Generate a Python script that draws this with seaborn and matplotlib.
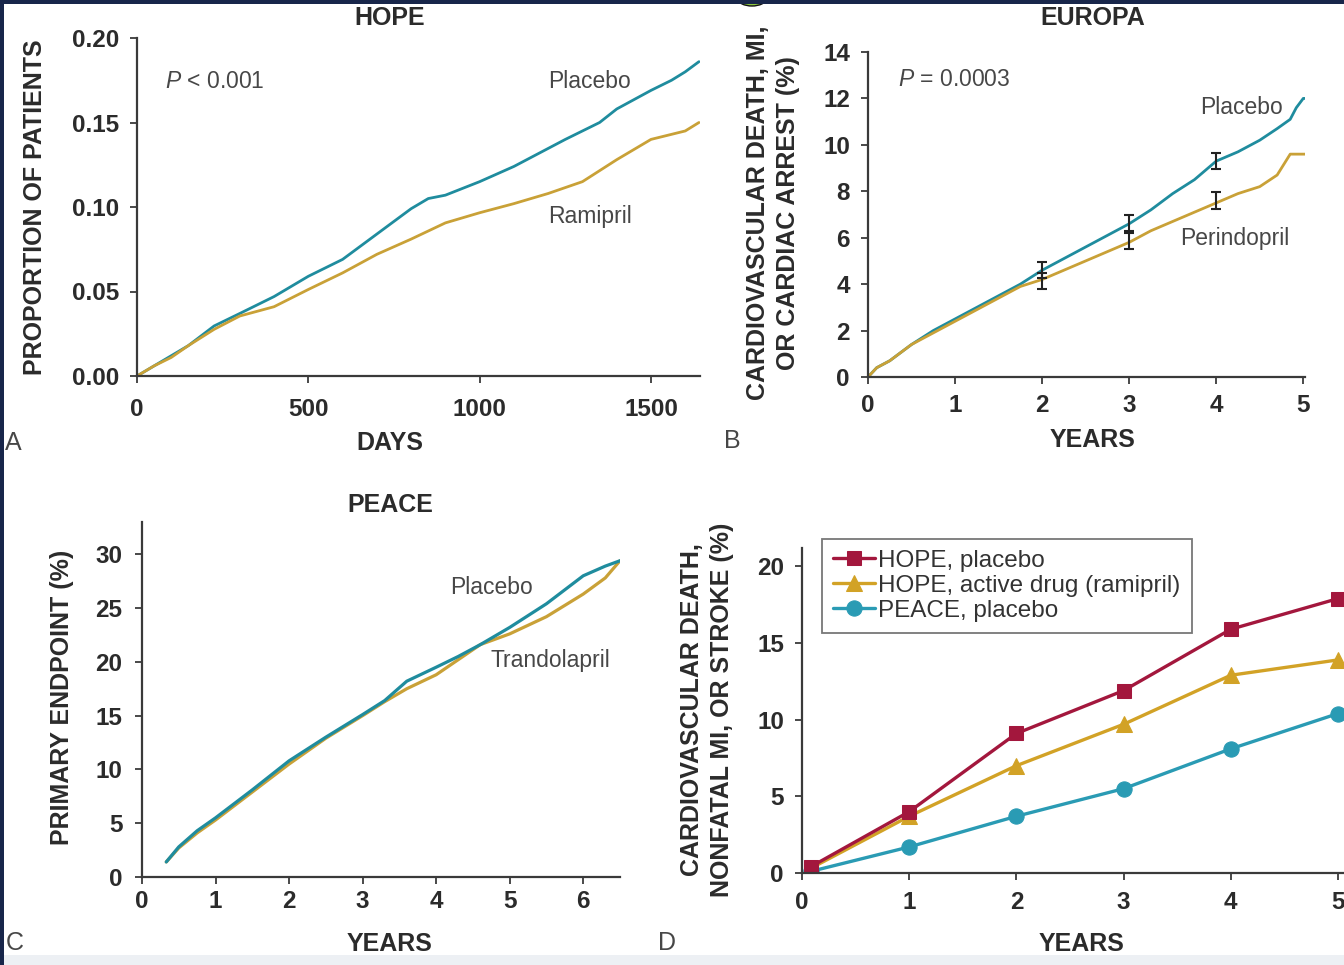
import matplotlib
matplotlib.use("Agg")
import matplotlib.pyplot as plt
import seaborn as sns
from matplotlib.patches import Rectangle, Ellipse

# ---------------- data ----------------
# Panel A: HOPE (days, proportion of patients)
hope_days_placebo = [0, 50, 100, 150, 225, 300, 400, 500, 600, 718, 800, 850, 900, 1000, 1100, 1250, 1350, 1400, 1500, 1560, 1600, 1640]
hope_placebo = [0, 0.006, 0.012, 0.018, 0.0296, 0.037, 0.047, 0.059, 0.069, 0.0867, 0.099, 0.105, 0.107, 0.115, 0.124, 0.140, 0.150, 0.158, 0.169, 0.175, 0.180, 0.186]
hope_days_ramipril = [0, 50, 100, 150, 225, 300, 400, 500, 600, 700, 800, 900, 1000, 1100, 1200, 1300, 1400, 1500, 1600, 1640]
hope_ramipril = [0, 0.006, 0.011, 0.018, 0.0276, 0.0355, 0.041, 0.0512, 0.061, 0.072, 0.081, 0.0906, 0.0966, 0.102, 0.108, 0.115, 0.128, 0.140, 0.145, 0.150]

# Panel B: EUROPA (years, %)
europa_years = [0, 0.1, 0.25, 0.5, 0.75, 1.0, 1.25, 1.5, 1.75, 2.0, 2.25, 2.5, 2.75, 3.0, 3.25, 3.5, 3.75, 4.0, 4.25, 4.5, 4.7, 4.85, 4.92, 5.0, 5.02]
europa_placebo = [0, 0.4, 0.7, 1.4, 2.0, 2.5, 3.0, 3.5, 4.0, 4.6, 5.1, 5.6, 6.1, 6.6, 7.2, 7.9, 8.5, 9.3, 9.7, 10.2, 10.7, 11.1, 11.6, 12.0, 12.0]
europa_perindopril = [0, 0.4, 0.7, 1.4, 1.9, 2.4, 2.9, 3.4, 3.9, 4.2, 4.6, 5.0, 5.4, 5.8, 6.3, 6.7, 7.1, 7.5, 7.9, 8.2, 8.7, 9.6, 9.6, 9.6, 9.6]
europa_err_years = [2, 3, 4]
europa_err_placebo = [4.6, 6.65, 9.3]
europa_err_perindopril = [4.15, 5.85, 7.6]
europa_err_half = [0.35, 0.35, 0.35]

# Panel C: PEACE (years, %)
peace_years = [0.33, 0.5, 0.75, 1.0, 1.5, 2.0, 2.5, 3.0, 3.3, 3.6, 4.0, 4.3, 4.6, 5.0, 5.5, 6.0, 6.3, 6.5]
peace_placebo = [1.4, 2.8, 4.3, 5.5, 8.1, 10.8, 13.0, 15.1, 16.4, 18.2, 19.5, 20.5, 21.6, 23.2, 25.4, 28.0, 28.9, 29.4]
peace_trandolapril = [1.4, 2.7, 4.1, 5.3, 7.9, 10.5, 12.9, 15.0, 16.3, 17.5, 18.8, 20.2, 21.6, 22.6, 24.2, 26.3, 27.8, 29.4]

# Panel D: comparison (years, %)
comp_years = [0.08, 1, 2, 3, 4, 5]
comp_hope_placebo = [0.4, 4.0, 9.1, 11.9, 15.9, 17.9]
comp_hope_ramipril = [0.3, 3.7, 7.0, 9.7, 12.9, 13.9]
comp_peace_placebo = [0.1, 1.7, 3.7, 5.5, 8.1, 10.4]
comp_labels = ["HOPE, placebo", "HOPE, active drug (ramipril)", "PEACE, placebo"]

# tick labels
hope_xticks = [0, 500, 1000, 1500]
hope_yticks = [0, 0.05, 0.10, 0.15, 0.20]
hope_yticklabels = ["0.00", "0.05", "0.10", "0.15", "0.20"]
europa_xticks = [0, 1, 2, 3, 4, 5]
europa_yticks = [0, 2, 4, 6, 8, 10, 12, 14]
peace_xticks = [0, 1, 2, 3, 4, 5, 6]
peace_yticks = [0, 5, 10, 15, 20, 25, 30]
comp_xticks = [0, 1, 2, 3, 4, 5]
comp_yticks = [0, 5, 10, 15, 20]

# ---------------- style ----------------
sns.set_theme(style="white")
plt.rcParams['font.family'] = ['Liberation Sans', 'DejaVu Sans']
plt.rcParams['mathtext.fontset'] = 'custom'
plt.rcParams['mathtext.it'] = 'Liberation Sans:italic'
plt.rcParams['mathtext.rm'] = 'Liberation Sans'

TEAL = '#1f8c9e'
GOLD = '#c9a137'
RED = '#a3173d'
GOLD_D = '#d2a226'
TEAL_D = '#2a9bb4'
SPINE = '#3a3a3a'
TXT = '#2b2b2b'
ANN = '#474747'
ANN_SIZE = 16.5
TICK_SIZE = 17.5

W, H = 1344, 965
fig = plt.figure(figsize=(W / 100, H / 100), dpi=100)
fig.patch.set_facecolor('white')


def ax_at(x0, y0, x1, y1):
    return fig.add_axes([x0 / W, (H - y1) / H, (x1 - x0) / W, (y1 - y0) / H])


def style(ax, xpad, ypad):
    sns.despine(ax=ax)
    ax.set_facecolor('none')
    for s in ['left', 'bottom']:
        ax.spines[s].set_color(SPINE)
        ax.spines[s].set_linewidth(1.6)
    ax.tick_params(axis='both', direction='out', length=5, width=1.3, color=SPINE,
                   labelsize=TICK_SIZE, labelcolor=TXT, bottom=True, left=True)
    ax.tick_params(axis='x', pad=xpad)
    ax.tick_params(axis='y', pad=ypad)
    for lab in ax.get_xticklabels() + ax.get_yticklabels():
        lab.set_fontweight('bold')
    ax.set_xlabel('')
    ax.set_ylabel('')


def ftext(x, y, s, size=18, weight='bold', color=TXT, rot=0, ha='center', va='center', **kw):
    fig.text(x / W, (H - y) / H, s, fontsize=size, fontweight=weight, color=color,
             rotation=rot, ha=ha, va=va, **kw)


# ---------------- Panel A ----------------
axA = ax_at(137, 38, 700, 376)
sns.lineplot(x=hope_days_placebo, y=hope_placebo, ax=axA, color=TEAL, linewidth=2.0)
sns.lineplot(x=hope_days_ramipril, y=hope_ramipril, ax=axA, color=GOLD, linewidth=2.0)
axA.set_xlim(0, 1643)
axA.set_ylim(0, 0.20)
axA.set_xticks(hope_xticks)
axA.set_yticks(hope_yticks)
axA.set_yticklabels(hope_yticklabels)
style(axA, 11, 8)
ftext(390, 18, 'HOPE')
ftext(390, 443, 'DAYS')
ftext(35, 207, 'PROPORTION OF PATIENTS', rot=90)
ftext(5, 443, 'A', weight='normal', color=ANN, ha='left')
ftext(165, 81, r'$\it{P}$ < 0.001', size=ANN_SIZE, weight='normal', color=ANN, ha='left')
ftext(590, 81, 'Placebo', size=ANN_SIZE, weight='normal', color=ANN)
ftext(590, 216, 'Ramipril', size=ANN_SIZE, weight='normal', color=ANN)

# ---------------- Panel B ----------------
axB = ax_at(868, 52, 1305, 377)
sns.lineplot(x=europa_years, y=europa_placebo, ax=axB, color=TEAL, linewidth=2.0)
sns.lineplot(x=europa_years, y=europa_perindopril, ax=axB, color=GOLD, linewidth=2.0)
axB.errorbar(europa_err_years, europa_err_placebo, yerr=europa_err_half, fmt='none',
             ecolor='#222222', elinewidth=1.5, capsize=3.5, capthick=1.5, zorder=4)
axB.errorbar(europa_err_years, europa_err_perindopril, yerr=europa_err_half, fmt='none',
             ecolor='#222222', elinewidth=1.5, capsize=3.5, capthick=1.5, zorder=4)
axB.set_xlim(0, 5.02)
axB.set_ylim(0, 14)
axB.set_xticks(europa_xticks)
axB.set_yticks(europa_yticks)
style(axB, 7, 8)
ftext(1093, 18, 'EUROPA')
ftext(1093, 440, 'YEARS')
ftext(773, 213, 'CARDIOVASCULAR DEATH, MI,\nOR CARDIAC ARREST (%)', rot=90,
      multialignment='center', linespacing=1.3)
ftext(732, 441, 'B', weight='normal', color=ANN)
ftext(898, 80, r'$\it{P}$ = 0.0003', size=ANN_SIZE, weight='normal', color=ANN, ha='left')
ftext(1242, 108, 'Placebo', size=ANN_SIZE, weight='normal', color=ANN)
ftext(1235, 238, 'Perindopril', size=ANN_SIZE, weight='normal', color=ANN)

# ---------------- Panel C ----------------
axC = ax_at(142, 522, 620, 877)
sns.lineplot(x=peace_years, y=peace_trandolapril, ax=axC, color=GOLD, linewidth=2.3)
sns.lineplot(x=peace_years, y=peace_placebo, ax=axC, color=TEAL, linewidth=2.3)
axC.set_xlim(0, 6.5)
axC.set_ylim(0, 33)
axC.set_xticks(peace_xticks)
axC.set_yticks(peace_yticks)
style(axC, 4, 9)
ftext(390, 505, 'PEACE')
ftext(390, 944, 'YEARS')
ftext(62, 697, 'PRIMARY ENDPOINT (%)', rot=90)
ftext(15, 943, 'C', weight='normal', color=ANN)
ftext(492, 588, 'Placebo', size=ANN_SIZE, weight='normal', color=ANN)
ftext(550, 660, 'Trandolapril', size=ANN_SIZE, weight='normal', color=ANN)

# ---------------- Panel D ----------------
axD = ax_at(802, 548, 1344, 873)
sns.lineplot(x=comp_years, y=comp_peace_placebo, ax=axD, color=TEAL_D, linewidth=2.4,
             marker='o', markersize=11, markeredgecolor=TEAL_D, label=comp_labels[2])
sns.lineplot(x=comp_years, y=comp_hope_ramipril, ax=axD, color=GOLD_D, linewidth=2.4,
             marker='^', markersize=12, markeredgecolor=GOLD_D, label=comp_labels[1])
sns.lineplot(x=comp_years, y=comp_hope_placebo, ax=axD, color=RED, linewidth=2.4,
             marker='s', markersize=10, markeredgecolor=RED, label=comp_labels[0])
axD.set_xlim(0, 5.056)
axD.set_ylim(0, 21.2)
axD.set_xticks(comp_xticks)
axD.set_yticks(comp_yticks)
style(axD, 8, 8)
handles, labels = axD.get_legend_handles_labels()
order = [labels.index(l) for l in comp_labels]
leg = axD.legend([handles[i] for i in order], [labels[i] for i in order],
                 loc='upper left', bbox_to_anchor=(822 / W, (H - 539) / H),
                 bbox_transform=fig.transFigure, borderaxespad=0, frameon=True,
                 fancybox=False, prop={'size': 17.5, 'weight': 'normal'},
                 handlelength=1.75, handletextpad=0.12, labelspacing=0.12,
                 borderpad=0.45, edgecolor='#555555')
leg.get_frame().set_linewidth(1.3)
for t in leg.get_texts():
    t.set_color('#333333')
ftext(1082, 944, 'YEARS')
ftext(707, 710, 'CARDIOVASCULAR DEATH,\nNONFATAL MI, OR STROKE (%)', rot=90,
      multialignment='center', linespacing=1.3)
ftext(667, 943, 'D', weight='normal', color=ANN)

# ---------------- frame decorations ----------------
fig.add_artist(Rectangle((0, 0), 1, 10 / H, transform=fig.transFigure,
                         facecolor='#edf0f4', edgecolor='none', zorder=0))
fig.add_artist(Ellipse((752 / W, (H + 1) / H), 28 / W, 14 / H, transform=fig.transFigure,
                       facecolor='#8cc63f', edgecolor='#111111', linewidth=1, zorder=9))
fig.add_artist(Rectangle((0, (H - 4) / H), 1, 4 / H, transform=fig.transFigure,
                         facecolor='#18264a', edgecolor='none', zorder=10))
fig.add_artist(Rectangle((0, 0), 4 / W, 1, transform=fig.transFigure,
                         facecolor='#18264a', edgecolor='none', zorder=10))

fig.savefig('out.png', dpi=100, facecolor='white')
